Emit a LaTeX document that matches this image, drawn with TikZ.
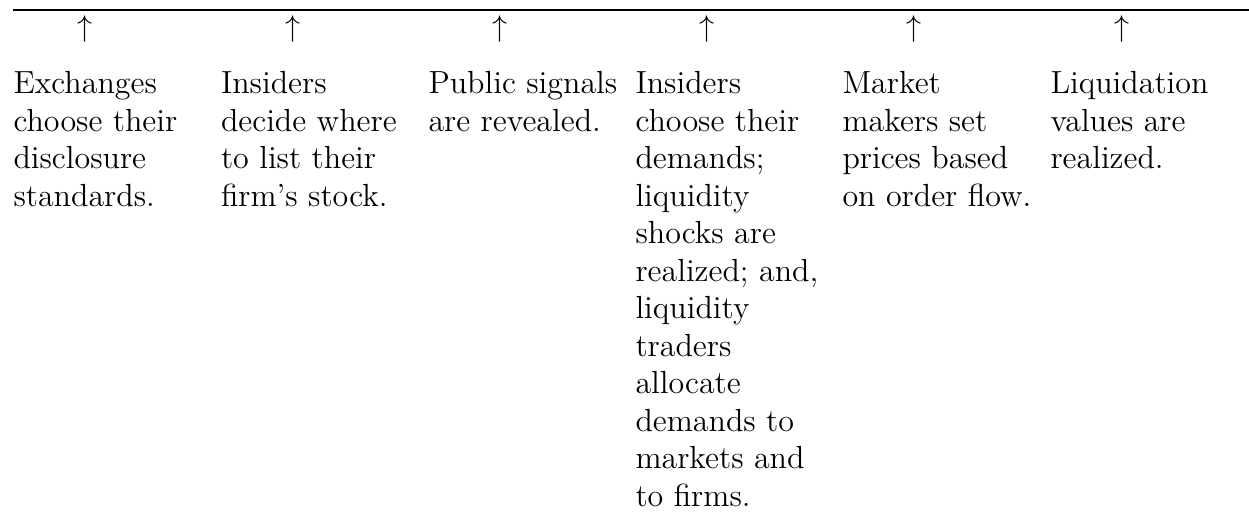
\documentclass[tikz,border=0pt]{standalone}
\usepackage{amsmath}
\usepackage{amssymb}
\usepackage{tikz}

\begin{document}
\begin{tikzpicture}[x=0.4pt,y=-0.4pt,
  event/.style={anchor=north west,inner sep=0pt,align=left,
    font=\fontsize{12.8}{15}\selectfont},
  tick/.style={anchor=center,inner sep=0pt,font=\fontsize{12.8}{15}\selectfont}]
  \useasboundingbox (0,0) rectangle (1249,516);
  % time line
  \coordinate (t0) at (13,10);
  \coordinate (t1) at (1249,10);
  \draw[thick] (t0)--(t1);
  % Stages and what happens at each one
  \foreach \x/\eventText [count=\i] in {13/{Exchanges\\choose their\\disclosure\\standards.},
    220.5/{Insiders\\decide where\\to list their\\firm's stock.},
    428/{Public signals\\are revealed.},
    635/{Insiders\\choose their\\demands;\\liquidity\\shocks are\\realized; and,\\liquidity\\traders\\allocate\\demands to\\markets and\\to firms.},
    842/{Market\\makers set\\prices based\\on order flow.},
    1050/{Liquidation\\values are\\realized.}}
  {
    \node[tick] (tick\i) at (\x+72,29) {$\uparrow$};
    \node[event] (stage\i) at (\x,71) {\eventText};
  }
\end{tikzpicture}
\end{document}
